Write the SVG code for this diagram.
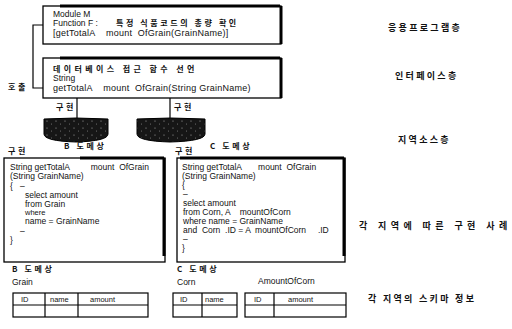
<svg xmlns="http://www.w3.org/2000/svg" width="512" height="329" viewBox="0 0 512 329">
<style>
 text { font-family: "Liberation Sans", Arial, sans-serif; fill: #111; white-space: pre; }
 .code { font-size: 8.5px; }
 .big { font-size: 9px; letter-spacing: 0.25px; }
 .small { font-size: 7.5px; }
 .ko { font-family: "Noto Sans CJK KR", sans-serif; font-size: 8px; font-weight: bold; letter-spacing: 2.6px; }
 .layer { font-family: "Noto Sans CJK KR", sans-serif; font-size: 9px; font-weight: bold; letter-spacing: 2.3px; }
 .wide { letter-spacing: 4.4px; }
 .box { fill: #fff; stroke: #000; stroke-width: 1.3; }
 .thick { stroke: #000; stroke-width: 3; fill: none; }
 .line { stroke: #000; stroke-width: 1.2; fill: none; }
 .cyl { fill: url(#speck); stroke: #000; stroke-width: 1; }
 .cell { fill: #fff; stroke: #000; stroke-width: 1.2; }
</style>
<defs>
 <pattern id="speck" width="9" height="7" patternUnits="userSpaceOnUse">
  <rect width="9" height="7" fill="#161616"/>
  <circle cx="2" cy="2" r="0.6" fill="#aaa"/>
  <circle cx="6.5" cy="5" r="0.5" fill="#888"/>
 </pattern>
</defs>

<g id="app-layer">
 <rect class="box" x="43" y="6" width="238" height="38"/>
 <line class="thick" x1="60" y1="6" x2="280" y2="6" stroke-width="2"/>
 <line class="thick" x1="281" y1="6" x2="281" y2="44"/>
 <text class="code" x="53" y="17">Module M</text>
 <text class="code" x="53" y="26">Function F :</text>
 <text class="ko" x="116" y="26">특정 식품코드의 총량 확인</text>
 <text class="big" x="53" y="36">[getTotalA    mount  OfGrain(GrainName)]</text>
</g>

<g id="interface-layer">
 <rect class="box" x="43" y="58" width="238" height="40"/>
 <line class="thick" x1="60" y1="58" x2="280" y2="58" stroke-width="2"/>
 <line class="thick" x1="281" y1="58" x2="281" y2="98"/>
 <text class="ko" x="53" y="72" style="letter-spacing:3.4px">데이터베이스 접근 함수 선언</text>
 <text class="code" x="53" y="81">String</text>
 <text class="big" x="53" y="91">getTotalA    mount  OfGrain(String GrainName)</text>
</g>

<g id="call-label">
 <text class="ko" x="8" y="90">호출</text>
</g>

<g id="connectors">
 <polyline class="line" points="43,25 33,25 33,88 43,88"/>
 <line class="line" x1="77" y1="98" x2="77" y2="121"/>
 <line class="line" x1="170" y1="98" x2="170" y2="121"/>
</g>

<g id="impl-labels">
 <text class="ko" x="56" y="110">구현</text>
 <text class="ko" x="174" y="110">구현</text>
</g>

<g id="db-b">
 <path class="cyl" d="M44,119 Q76,117 108,119 L108,134 Q108,141 76,142 Q44,141 44,134 Z"/>
 <text class="ko" x="64" y="149">B 도메상</text>
</g>

<g id="db-c">
 <path class="cyl" d="M137,119 Q170,117 205,119 L205,134 Q205,141 170,142 Q137,141 137,134 Z"/>
 <text class="ko" x="210" y="149">C 도메상</text>
</g>

<g id="impl-b">
 <text class="ko" x="8" y="154">구현</text>
 <rect class="box" x="4" y="158" width="161" height="104"/>
 <line class="thick" x1="80" y1="158" x2="164" y2="158" stroke-width="2.5"/>
 <line class="thick" x1="164" y1="158" x2="164" y2="256"/>
 <text class="code" x="10" y="170">String getTotalA         mount  OfGrain</text>
 <text class="code" x="10" y="179">(String GrainName)</text>
 <text class="code" x="10" y="189">{   –</text>
 <text class="code" x="25" y="198">select amount</text>
 <text class="code" x="25" y="207">from Grain</text>
 <text class="small" x="25" y="215">where</text>
 <text class="code" x="25" y="224">name = GrainName</text>
 <text class="code" x="20" y="234">–</text>
 <text class="code" x="10" y="243">}</text>
</g>

<g id="impl-c">
 <text class="ko" x="175" y="154">구현</text>
 <rect class="box" x="177" y="158" width="168" height="104"/>
 <line class="thick" x1="180" y1="158" x2="344" y2="158" stroke-width="2.5"/>
 <line class="thick" x1="344" y1="158" x2="344" y2="256"/>
 <text class="code" x="182" y="170">String getTotalA       mount  OfGrain</text>
 <text class="code" x="182" y="179">(String GrainName)</text>
 <text class="code" x="182" y="188">{</text>
 <text class="code" x="183" y="197">–</text>
 <text class="code" x="183" y="206">select amount</text>
 <text class="code" x="183" y="215">from Corn, A    mountOfCorn</text>
 <text class="code" x="183" y="224">where name = GrainName</text>
 <text class="code" x="183" y="233">and  Corn  .ID = A  mountOfCorn     .ID</text>
 <text class="code" x="183" y="242">–</text>
 <text class="code" x="182" y="251">}</text>
</g>

<g id="schema-b">
 <text class="ko" x="12" y="272">B 도메상</text>
 <text class="code" x="12" y="285">Grain</text>
 <rect class="cell" x="13" y="293" width="135" height="24"/>
 <line class="line" x1="13" y1="305" x2="148" y2="305"/>
 <line class="line" x1="45" y1="293" x2="45" y2="317"/>
 <line class="line" x1="78" y1="293" x2="78" y2="317"/>
 <text class="small" x="21" y="302">ID</text>
 <text class="small" x="50" y="302">name</text>
 <text class="small" x="90" y="302">amount</text>
</g>

<g id="schema-c">
 <text class="ko" x="177" y="272">C 도메상</text>
 <text class="code" x="177" y="285">Corn</text>
 <text class="code" x="258" y="284">AmountOfCorn</text>
 <rect class="cell" x="173" y="293" width="64" height="24"/>
 <line class="line" x1="173" y1="305" x2="237" y2="305"/>
 <line class="line" x1="202" y1="293" x2="202" y2="317"/>
 <text class="small" x="180" y="302">ID</text>
 <text class="small" x="205" y="302">name</text>
 <rect class="cell" x="245" y="293" width="101" height="24"/>
 <line class="line" x1="245" y1="305" x2="346" y2="305"/>
 <line class="line" x1="274" y1="293" x2="274" y2="317"/>
 <text class="small" x="254" y="302">ID</text>
 <text class="small" x="288" y="302">amount</text>
</g>

<g id="layer-labels">
 <text class="layer" x="388" y="31">응용프로그램층</text>
 <text class="layer" x="395" y="79">인터페이스층</text>
 <text class="layer" x="398" y="143">지역소스층</text>
 <text class="layer wide" x="359" y="229">각 지역에 따른 구현 사례</text>
 <text class="layer" x="368" y="302">각 지역의 스키마 정보</text>
</g>
</svg>
